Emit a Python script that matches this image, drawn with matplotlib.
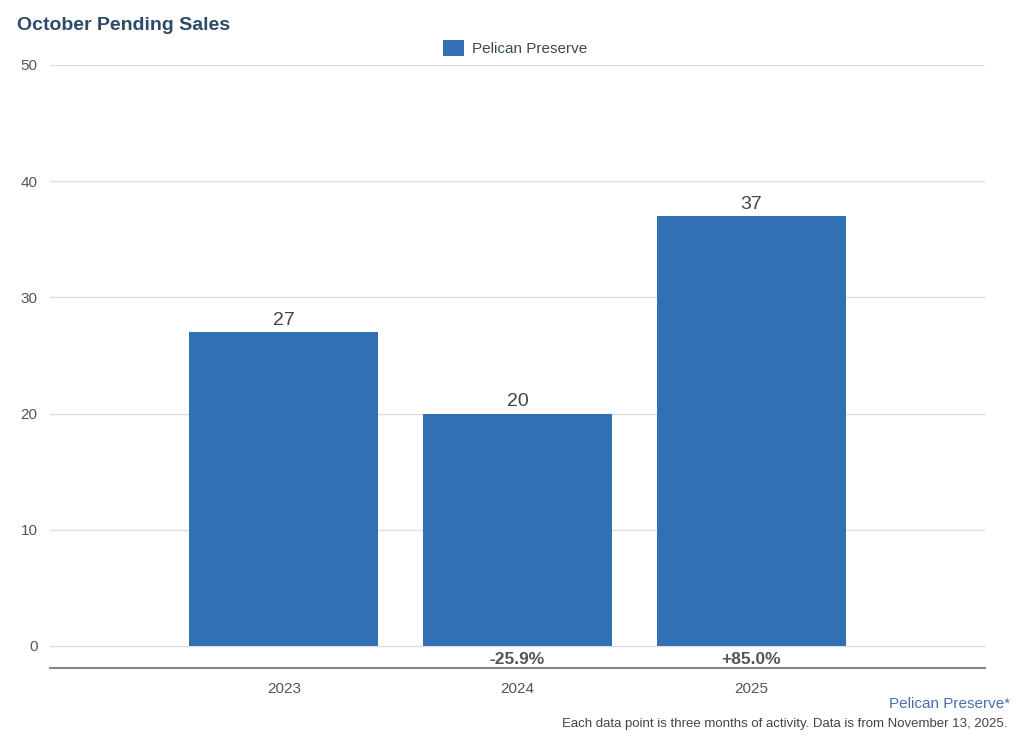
import matplotlib.pyplot as plt

years = ["2023", "2024", "2025"]
pending = [27, 20, 37]
changes = ["", "-25.9%", "+85.0%"]
yticks = [0, 10, 20, 30, 40, 50]

plt.rcParams['font.family'] = ['Liberation Sans', 'DejaVu Sans']

fig = plt.figure(figsize=(10.24, 7.41), dpi=100)
ax = fig.add_axes([50 / 1024, 1 - 668 / 741, 935 / 1024, 603 / 741])

x = list(range(len(years)))
bars = ax.bar(x, pending, width=0.81, color="#3170b3", label="Pelican Preserve", zorder=3)

# value labels on top of bars
for xi, v in zip(x, pending):
    ax.text(xi, v + 0.3, str(v), ha="center", va="bottom", fontsize=14, color="#444444")

# percent change labels under the bars
for xi, c in zip(x, changes):
    if c:
        ax.text(xi, -1.15, c, ha="center", va="center", fontsize=12.5,
                fontweight="bold", color="#555555")

ax.set_xlim(-1, 3)
ax.set_ylim(-1.9, 50)
ax.set_xticks(x)
ax.set_xticklabels(years)
ax.set_yticks(yticks)
ax.tick_params(axis="both", length=0, labelsize=11, colors="#555555")
ax.tick_params(axis="y", pad=9)
ax.tick_params(axis="x", pad=10)
ax.grid(axis="y", color="#dddddd", linewidth=1, zorder=0)

for s in ["top", "left", "right"]:
    ax.spines[s].set_visible(False)
ax.spines["bottom"].set_color("#888888")
ax.spines["bottom"].set_linewidth(1.5)

fig.text(17 / 1024, 1 - 26 / 741, "October Pending Sales", fontsize=14,
         fontweight="bold", color="#2d4a6b", va="center", ha="left")

fig.legend(handles=[bars], labels=["Pelican Preserve"], loc="center",
           bbox_to_anchor=(515 / 1024, 1 - 48 / 741), frameon=False, fontsize=11,
           handlelength=1.4, handleheight=1.2, handletextpad=0.5, labelcolor="#3b4a5b")

fig.text(1010 / 1024, 1 - 704 / 741, "Pelican Preserve*", fontsize=11,
         color="#4a6fa5", ha="right", va="center")
fig.text(1007 / 1024, 1 - 724 / 741,
         "Each data point is three months of activity. Data is from November 13, 2025.",
         fontsize=9.5, color="#444444", ha="right", va="center")

fig.savefig("out.png", dpi=100, facecolor="white")
